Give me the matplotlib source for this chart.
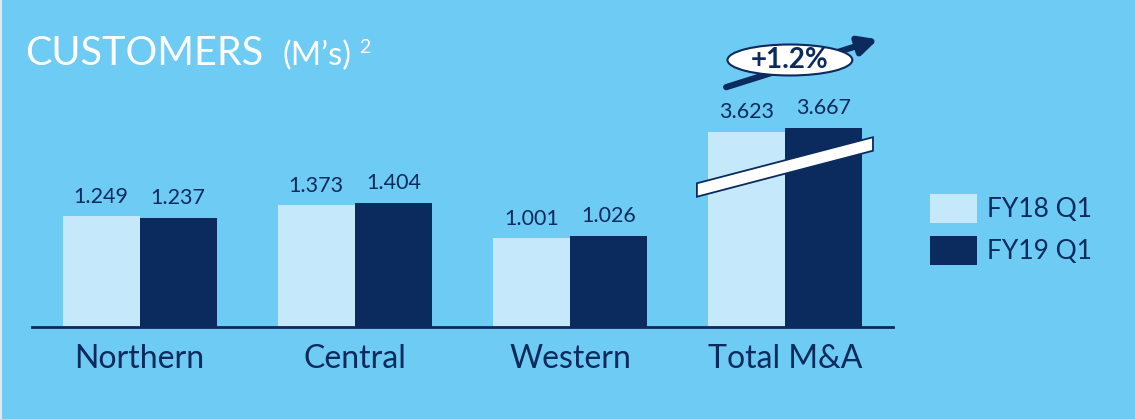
import numpy as np
import matplotlib
matplotlib.use("Agg")
import matplotlib.pyplot as plt
from matplotlib.patches import Ellipse, Polygon, Rectangle

# data
regions = ["Northern", "Central", "Western", "Total M&A"]
fy18_q1 = [1.249, 1.373, 1.001, 3.623]
fy19_q1 = [1.237, 1.404, 1.026, 3.667]
series_names = ["FY18 Q1", "FY19 Q1"]
growth_label = "+1.2%"
# amount cut out of the Total M&A bars (broken axis)
axis_break = 1.42

BG = "#6ecbf3"
LIGHT = "#c5e8fa"
NAVY = "#0b2a5d"
FONT = "Lato"

plt.rcParams["font.family"] = [FONT, "DejaVu Sans"]

fig = plt.figure(figsize=(11.35, 4.19), dpi=100, facecolor=BG)
W, H = 1135, 419

ax = fig.add_axes([32 / W, 1 - 327 / H, 861 / W, 265.5 / H])
ax.set_facecolor(BG)

x = np.arange(len(regions))
cut = np.array([0, 0, 0, axis_break])
bw = 0.358
shown18 = np.array(fy18_q1) - cut
shown19 = np.array(fy19_q1) - cut
b1 = ax.bar(x - bw / 2, shown18, bw, color=LIGHT, label=series_names[0])
b2 = ax.bar(x + bw / 2, shown19, bw, color=NAVY, label=series_names[1])

for bars, vals in ((b1, fy18_q1), (b2, fy19_q1)):
    for r, v in zip(bars, vals):
        ax.annotate("{:.3f}".format(v), (r.get_x() + r.get_width() / 2, r.get_height()),
                    xytext=(0, 7), textcoords="offset points", ha="center", va="bottom",
                    fontsize=15.5, color=NAVY)

ax.set_xlim(-0.5, 3.5)
ax.set_ylim(0, 3)
for s in ["top", "right", "left"]:
    ax.spines[s].set_visible(False)
ax.spines["bottom"].set_color(NAVY)
ax.spines["bottom"].set_linewidth(2)
ax.set_yticks([])
ax.set_xticks(x)
ax.set_xticklabels(regions, fontsize=23, color=NAVY)
ax.tick_params(axis="x", length=0, pad=12)

# break band across the Total M&A bars
x0, y0, x1, y1, hw = 2.589, 1.548, 3.407, 2.068, 0.076
band = Polygon([(x0, y0 - hw), (x1, y1 - hw), (x1, y1 + hw), (x0, y0 + hw)],
               closed=True, facecolor="white", edgecolor=NAVY, lw=1.3, zorder=5)
ax.add_patch(band)

# growth arrow + ellipse
ax.annotate("", xy=(3.43, 3.25), xytext=(2.725, 2.71),
            arrowprops=dict(arrowstyle="-|>,head_length=1.1,head_width=0.55",
                            color=NAVY, lw=4.5, shrinkA=0, shrinkB=0),
            annotation_clip=False, zorder=6)
ell = Ellipse((3.021, 3.017), 0.58, 0.35, facecolor="white", edgecolor=NAVY,
              lw=1.5, clip_on=False, zorder=7)
ax.add_patch(ell)
ax.text(3.021, 3.017, growth_label, ha="center", va="center", fontsize=20,
        fontweight="bold", color=NAVY, zorder=8, clip_on=False)

# legend
ax.legend(handles=[b1, b2], loc="upper left", bbox_to_anchor=(930 / W, 1 - 194 / H),
          bbox_transform=fig.transFigure, frameon=False, fontsize=19,
          labelcolor=NAVY, handlelength=1.77, handleheight=1.3, labelspacing=0.5,
          handletextpad=0.4, borderpad=0, borderaxespad=0)

# title
fig.text(25 / W, 1 - 65 / H, "CUSTOMERS", fontsize=28.5, color="white", va="baseline")
fig.text(283 / W, 1 - 65 / H, "(M’s)", fontsize=23.5, color="white", va="baseline")
fig.text(359 / W, 1 - 53 / H, "2", fontsize=14, color="white", va="baseline")

fig.patches.append(Rectangle((0, 0), 2 / W, 1, transform=fig.transFigure,
                             facecolor="#e6e6e6", edgecolor="none"))

fig.savefig("out.png", dpi=100, facecolor=BG)
